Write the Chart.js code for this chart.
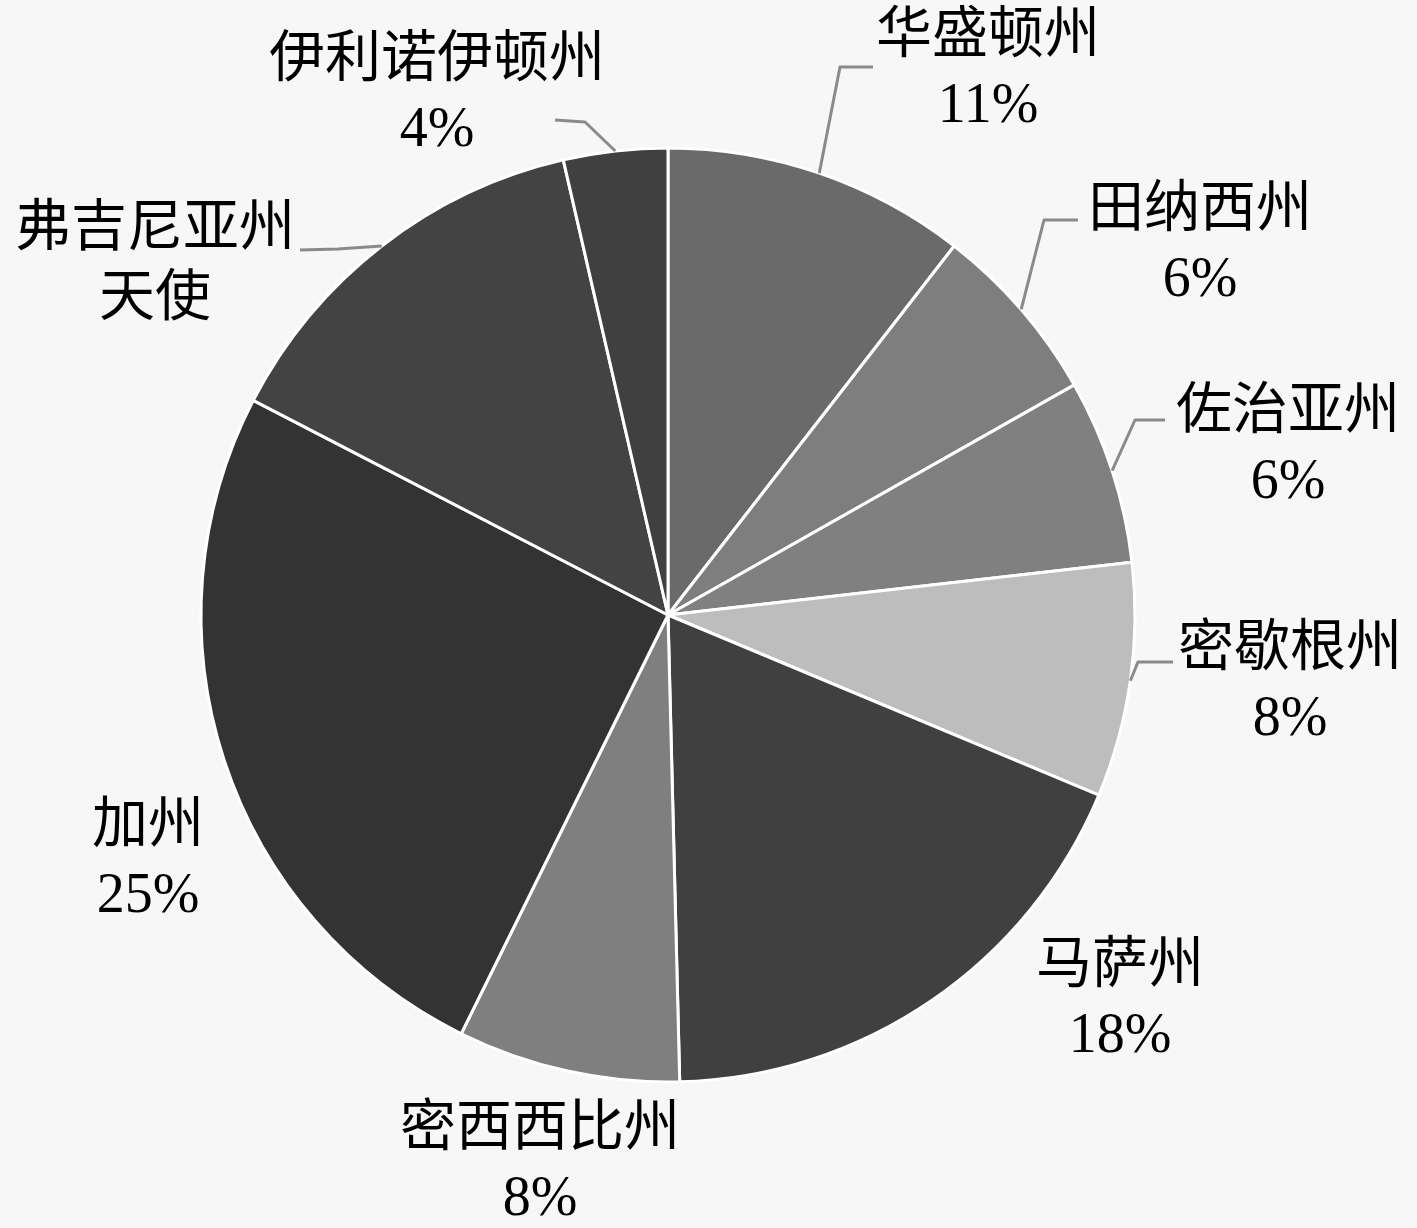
<!DOCTYPE html>
<html>
<head>
<meta charset="utf-8">
<script src="https://cdn.jsdelivr.net/npm/chart.js@4/dist/chart.umd.min.js"></script>
<style>
  html, body { margin: 0; padding: 0; background: #f7f7f7; }
  #wrap { width: 1417px; height: 1228px; }
</style>
</head>
<body>
<div id="wrap"><canvas id="pie" width="1417" height="1228"></canvas></div>
<script>
const names = ['华盛顿州', '田纳西州', '佐治亚州', '密歇根州', '马萨州', '密西西比州', '加州', '弗吉尼亚州\n天使', '伊利诺伊顿州'];
const shares = [10.5, 6.3, 6.4, 8.1, 18.3, 7.7, 25.3, 13.8, 3.6];
const pctLabels = ['11%', '6%', '6%', '8%', '18%', '8%', '25%', '14%', '4%'];
const sliceColors = ['#6a6a6a', '#7e7e7e', '#808080', '#bdbdbd', '#404040', '#7f7f7f', '#333333', '#434343', '#404040'];

// label placement, px from pie centre: text block centre, optional leader elbow + end
const labelLayout = [
  { at: [320, -543], lead: [[172, -548], [205, -548]] },
  { at: [532, -369], lead: [[376, -395], [410, -395]] },
  { at: [620, -167], lead: [[467, -195], [497, -195]] },
  { at: [622, 70],   lead: [[470, 47], [505, 47]] },
  { at: [452, 387],  lead: null },
  { at: [-128, 550], lead: null },
  { at: [-520, 247], lead: null },
  { at: [-513, -350], lead: [[-330, -366], [-368, -365]] },
  { at: [-231, -519], lead: [[-83, -493], [-113, -495]] },
];

const FONT = '56px "Liberation Serif", "Noto Sans CJK SC", serif';
const LINE_GAP = 70;

const outsideLabels = {
  id: 'outsideLabels',
  afterDatasetsDraw(chart) {
    const ctx = chart.ctx;
    const meta = chart.getDatasetMeta(0);
    ctx.save();
    meta.data.forEach((arc, i) => {
      const p = arc.getProps(['x', 'y', 'startAngle', 'endAngle', 'outerRadius'], true);
      const mid = (p.startAngle + p.endAngle) / 2;
      const lay = labelLayout[i];

      if (lay.lead) {
        ctx.strokeStyle = '#8a8a8a';
        ctx.lineWidth = 3;
        ctx.lineJoin = 'round';
        ctx.beginPath();
        ctx.moveTo(p.x + Math.cos(mid) * p.outerRadius, p.y + Math.sin(mid) * p.outerRadius);
        ctx.lineTo(p.x + lay.lead[0][0], p.y + lay.lead[0][1]);
        ctx.lineTo(p.x + lay.lead[1][0], p.y + lay.lead[1][1]);
        ctx.stroke();
      }

      const nameLines = names[i].split('\n');
      // the Virginia label wraps: 14% is not printed in the picture
      const lines = nameLines.length > 1 ? nameLines : nameLines.concat(pctLabels[i]);
      ctx.fillStyle = '#000';
      ctx.font = FONT;
      ctx.textAlign = 'center';
      ctx.textBaseline = 'middle';
      const cx = p.x + lay.at[0];
      const top = p.y + lay.at[1] - (lines.length - 1) * LINE_GAP / 2;
      lines.forEach((t, k) => ctx.fillText(t, cx, top + k * LINE_GAP));
    });
    ctx.restore();
  }
};

new Chart(document.getElementById('pie'), {
  type: 'pie',
  data: {
    labels: names,
    datasets: [{
      data: shares,
      backgroundColor: sliceColors,
      borderColor: '#ffffff',
      borderWidth: 3,
    }]
  },
  options: {
    responsive: false,
    animation: false,
    radius: 467,
    layout: { padding: { left: 100, right: 181, top: 52, bottom: 50 } },
    plugins: {
      legend: { display: false },
      tooltip: { enabled: false },
    }
  },
  plugins: [outsideLabels]
});
</script>
</body>
</html>
